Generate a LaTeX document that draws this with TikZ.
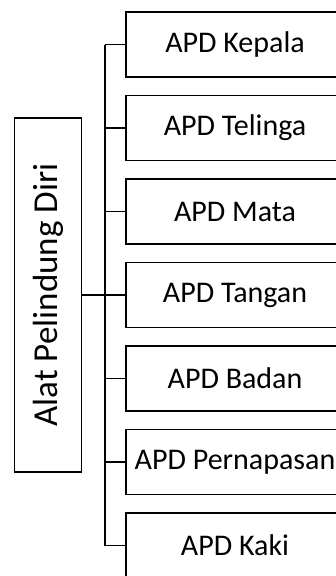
\documentclass[tikz,border=0pt]{standalone}
\usepackage{fontspec}
\setmainfont{Carlito}
\usetikzlibrary{positioning}

\tikzset{
    itembox/.style={draw, line width=1.6pt, minimum width=218pt, minimum height=65pt,
        inner sep=0pt, font=\fontsize{30}{34}\selectfont},
    rootbox/.style={draw, line width=1.6pt, rotate=90, minimum width=354pt,
        minimum height=67pt, inner sep=0pt, font=\fontsize{35}{40}\selectfont},
    link/.style={line width=1.4pt}
}

\begin{document}
\begin{tikzpicture}[x=1pt,y=-1pt]
    \useasboundingbox (0,0) rectangle (336,576);
    \clip (0,0) rectangle (336,576);
    % cabang APD
    \foreach \name [count=\i] in {Kepala,Telinga,Mata,Tangan,Badan,Pernapasan,Kaki}
        \node[itembox] (apd\i) at (235,{44.5+83.5*(\i-1)}) {APD \name};
    % induk
    \node[rootbox] (root) at (48,295) {Alat Pelindung Diri};
    \coordinate (bus) at (105,0);
    \draw[link] (bus |- apd1.west) -- (bus |- apd7.west);
    \foreach \i in {1,...,7}
        \draw[link] (bus |- apd\i.west) -- (apd\i.west);
    \draw[line width=2.4pt] (root.south) -- (apd4.west);
\end{tikzpicture}
\end{document}
